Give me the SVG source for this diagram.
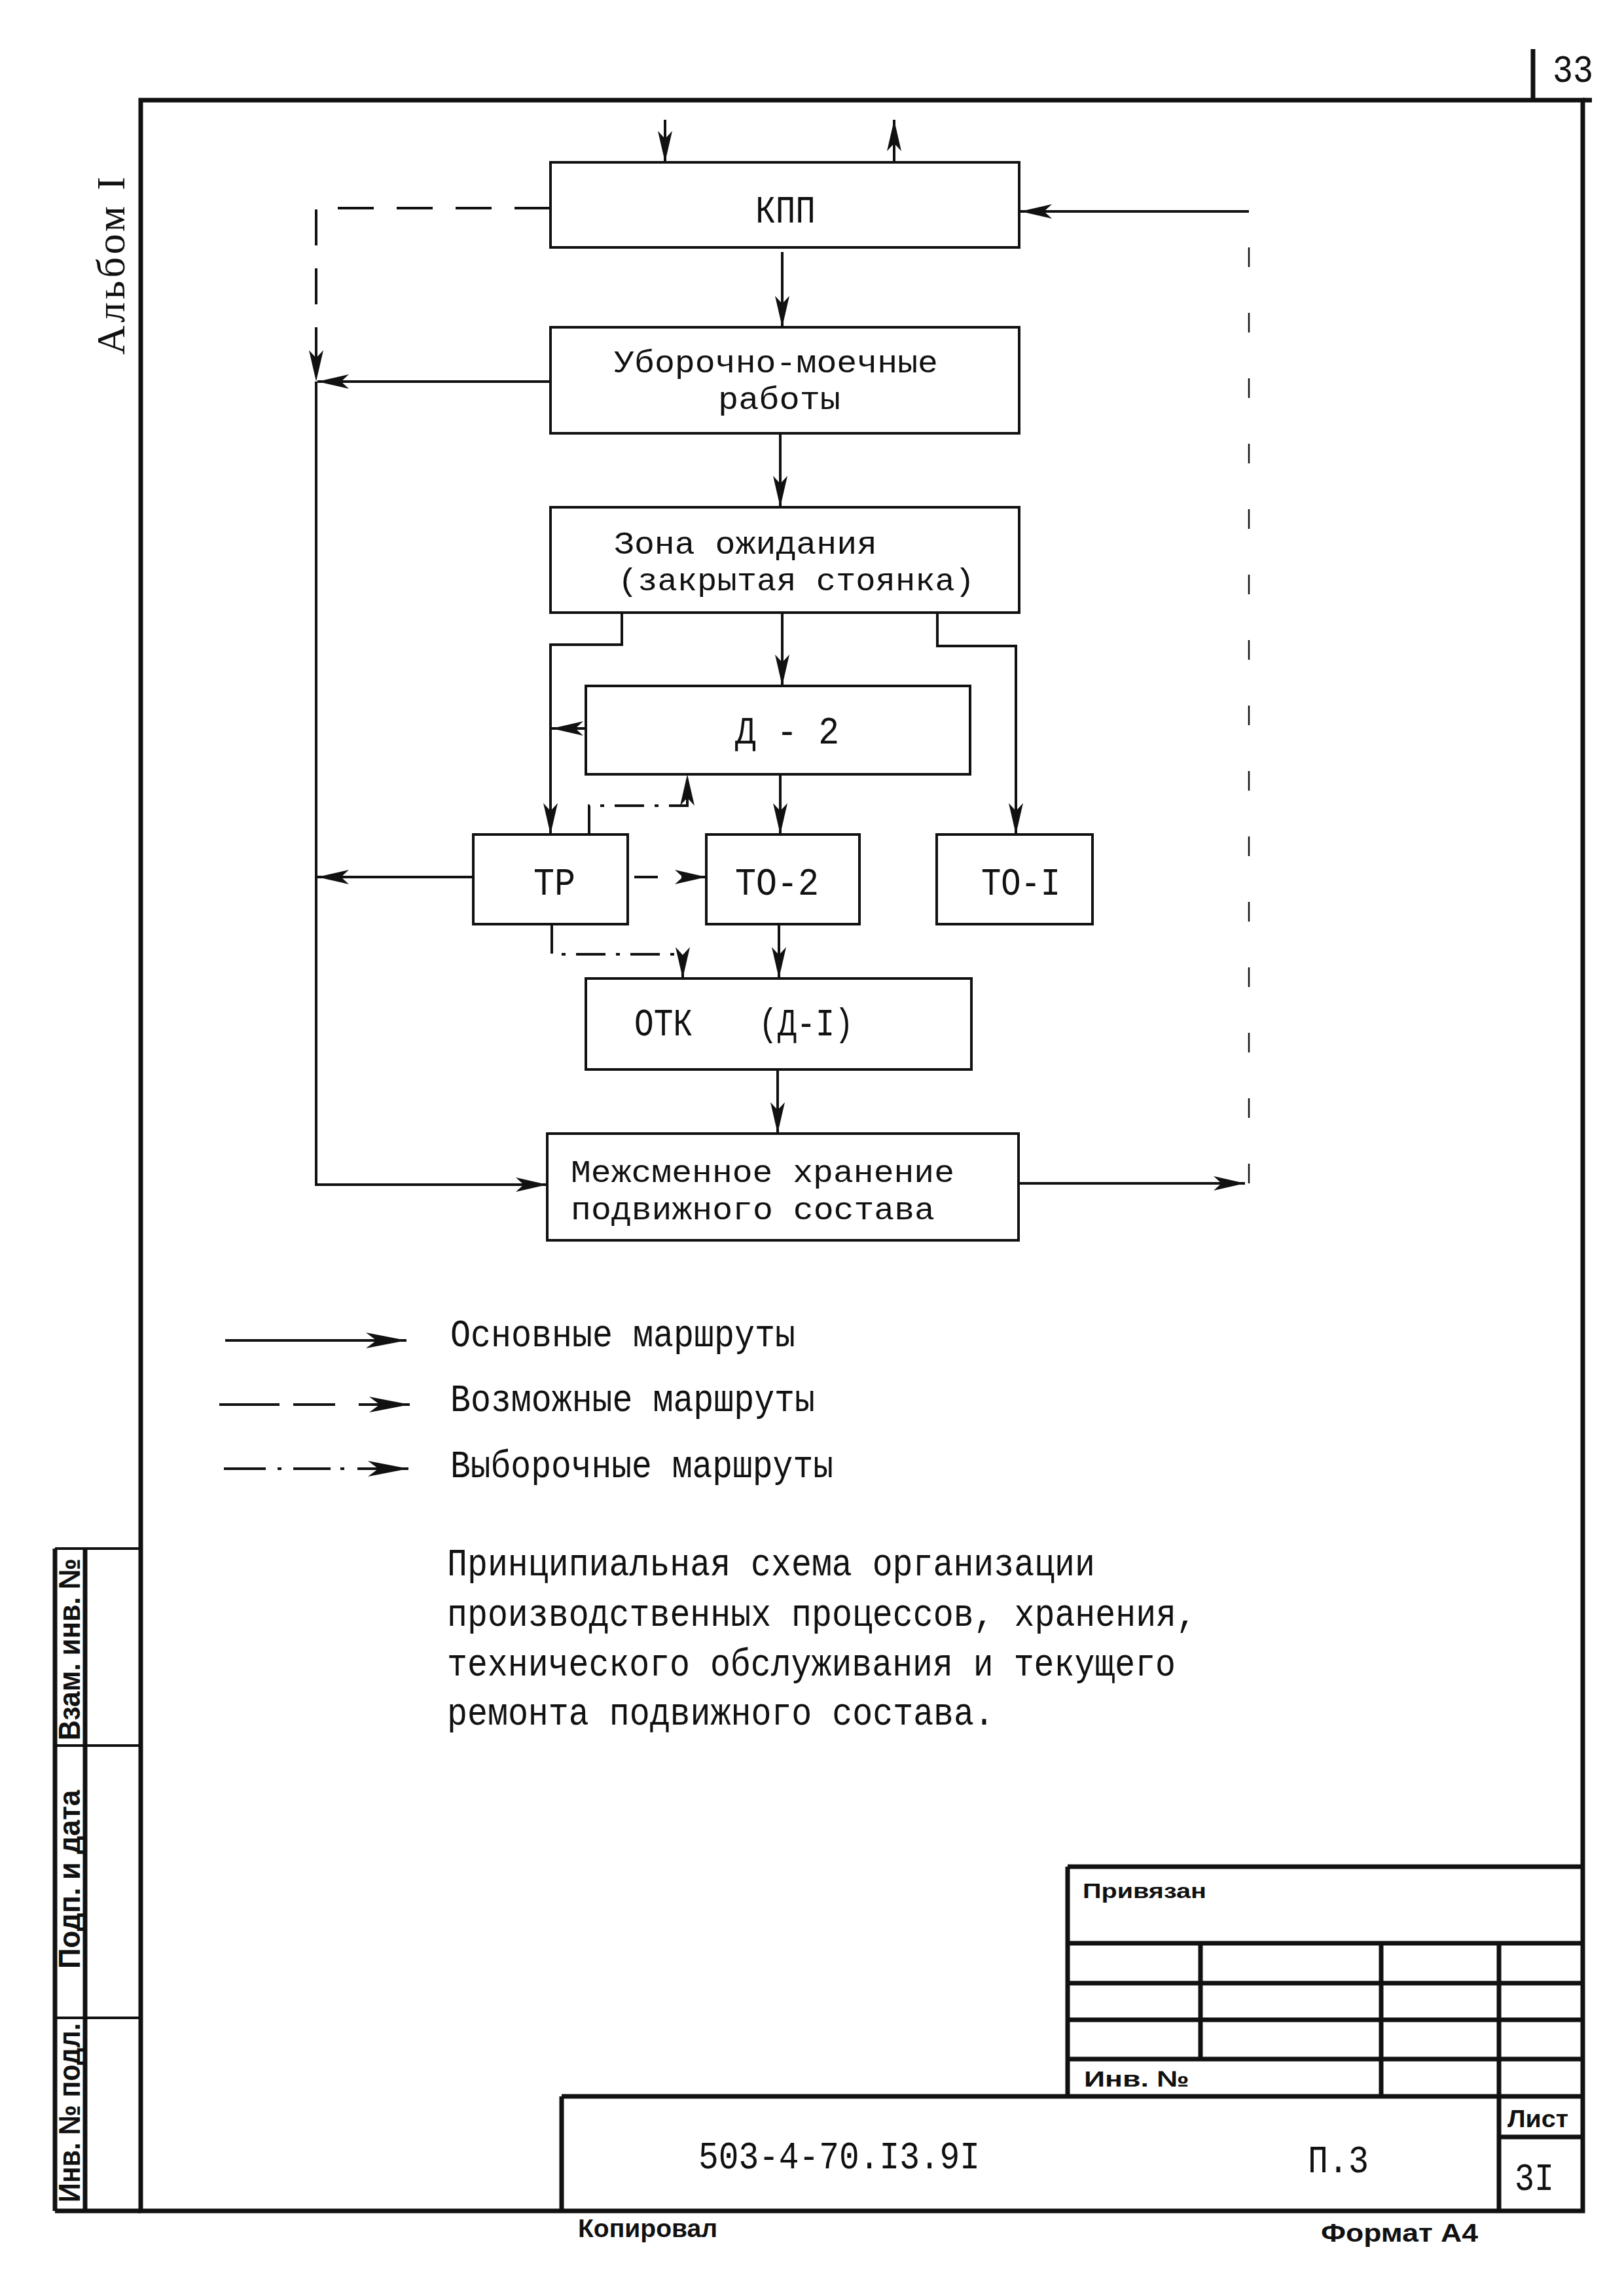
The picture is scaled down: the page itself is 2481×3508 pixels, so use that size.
<svg xmlns="http://www.w3.org/2000/svg" width="2481" height="3508" viewBox="0 0 2481 3508">
<defs>
<style>
.tw{font-family:"Liberation Mono","DejaVu Sans Mono",monospace;font-size:60px;fill:#111}
.tw2{font-family:"Liberation Mono","DejaVu Sans Mono",monospace;font-size:48px;fill:#111}
.sf{font-family:"Liberation Serif","DejaVu Serif",serif;font-size:62px;fill:#111}
.bd{font-family:"Liberation Sans","DejaVu Sans",sans-serif;font-weight:bold;fill:#111}
.box{fill:none;stroke:#111;stroke-width:4}
.ln{fill:none;stroke:#111;stroke-width:4}
.dash{stroke-dasharray:55 35}
.dd{stroke-dasharray:45 16 6 16}
.fr{fill:none;stroke:#111;stroke-width:7}
.th{fill:none;stroke:#111;stroke-width:4}
</style>
<marker id="ah" markerUnits="userSpaceOnUse" markerWidth="54" markerHeight="28" viewBox="-52 -14 54 28" refX="0" refY="0" orient="auto"><path d="M0,0 L-48,-11 L-36,0 L-48,11 Z" fill="#111"/></marker>
<marker id="ahL" markerUnits="userSpaceOnUse" markerWidth="68" markerHeight="28" viewBox="-66 -14 68 28" refX="0" refY="0" orient="auto"><path d="M0,0 L-62,-12 L-46,0 L-62,12 Z" fill="#111"/></marker>
</defs>
<rect width="2481" height="3508" fill="#fff"/>

<g id="frame">
<rect class="fr" x="215" y="153" width="2203" height="3225"/>
<line class="fr" x1="2342" y1="75" x2="2342" y2="153"/>
<line class="fr" x1="2418" y1="153" x2="2432" y2="153"/>
<text class="tw" x="2372" y="125" textLength="62" lengthAdjust="spacingAndGlyphs" font-size="64">33</text>
<text class="sf" transform="translate(190,542) rotate(-90)" textLength="272" lengthAdjust="spacing">Альбом I</text>
</g>

<g id="side-stamp">
<line class="fr" x1="84" y1="2366" x2="84" y2="3378"/>
<line class="fr" x1="130" y1="2366" x2="130" y2="3378"/>
<line class="th" x1="84" y1="2366" x2="215" y2="2366"/>
<line class="th" x1="84" y1="2667" x2="215" y2="2667"/>
<line class="th" x1="84" y1="3083" x2="215" y2="3083"/>
<line class="fr" x1="84" y1="3378" x2="215" y2="3378"/>
<text class="bd" font-size="46" transform="translate(122,2659) rotate(-90)" textLength="278" lengthAdjust="spacingAndGlyphs">Взам. инв. №</text>
<text class="bd" font-size="46" transform="translate(122,3008) rotate(-90)" textLength="273" lengthAdjust="spacingAndGlyphs">Подп. и дата</text>
<text class="bd" font-size="46" transform="translate(122,3365) rotate(-90)" textLength="274" lengthAdjust="spacingAndGlyphs">Инв. № подл.</text>
</g>

<g id="title-block">
<line class="fr" x1="1631" y1="2852" x2="2418" y2="2852"/>
<line class="fr" x1="1631" y1="2852" x2="1631" y2="3203"/>
<line class="fr" x1="1631" y1="2969" x2="2418" y2="2969"/>
<line class="fr" x1="1631" y1="3030" x2="2418" y2="3030"/>
<line class="fr" x1="1631" y1="3086" x2="2418" y2="3086"/>
<line class="fr" x1="1631" y1="3146" x2="2418" y2="3146"/>
<line class="fr" x1="858" y1="3203" x2="2418" y2="3203"/>
<line class="fr" x1="858" y1="3203" x2="858" y2="3378"/>
<line class="fr" x1="1834" y1="2969" x2="1834" y2="3146"/>
<line class="fr" x1="2110" y1="2969" x2="2110" y2="3203"/>
<line class="fr" x1="2290" y1="2969" x2="2290" y2="3378"/>
<line class="fr" x1="2290" y1="3265" x2="2418" y2="3265"/>
<text class="bd" font-size="32" x="1654" y="2900" textLength="189" lengthAdjust="spacingAndGlyphs">Привязан</text>
<text class="bd" font-size="34" x="1656" y="3188" textLength="161" lengthAdjust="spacingAndGlyphs">Инв. №</text>
<text class="bd" font-size="36" x="2303" y="3250" textLength="93" lengthAdjust="spacingAndGlyphs">Лист</text>
<text class="tw" font-size="62" x="2314" y="3346" textLength="60" lengthAdjust="spacingAndGlyphs">3I</text>
<text class="tw" font-size="62" x="1067" y="3313" textLength="430" lengthAdjust="spacingAndGlyphs">503-4-70.I3.9I</text>
<text class="tw" font-size="62" x="1998" y="3319" textLength="93" lengthAdjust="spacingAndGlyphs">П.3</text>
<text class="bd" font-size="38" x="883" y="3418" textLength="213" lengthAdjust="spacingAndGlyphs">Копировал</text>
<text class="bd" font-size="38" x="2018" y="3425" textLength="240" lengthAdjust="spacingAndGlyphs">Формат А4</text>
</g>

<g id="connectors">
<path class="ln" d="M1016 183 V248" marker-end="url(#ah)"/>
<path class="ln" d="M1366 248 V183" marker-end="url(#ah)"/>
<path class="ln" d="M1195 385 V500" marker-end="url(#ah)"/>
<path class="ln" d="M1192 662 V775" marker-end="url(#ah)"/>
<path class="ln" d="M1195 936 V1048" marker-end="url(#ah)"/>
<path class="ln" d="M950 936 V985 H841 V1275" marker-end="url(#ah)"/>
<path class="ln" d="M1432 936 V987 H1552 V1275" marker-end="url(#ah)"/>
<path class="ln" d="M1192 1183 V1275" marker-end="url(#ah)"/>
<path class="ln" d="M895 1113 H843" marker-end="url(#ah)"/>
<path class="ln dd" d="M900 1275 V1231 H1050 V1183" marker-end="url(#ah)"/>
<path class="ln" style="stroke-dasharray:0 8 36 36 60" d="M961 1340 H1079" marker-end="url(#ah)"/>
<path class="ln" d="M723 1340 H485" marker-end="url(#ah)"/>
<path class="ln dd" d="M843 1412 V1458 H1043 V1495" marker-end="url(#ah)"/>
<path class="ln" d="M1190 1412 V1495" marker-end="url(#ah)"/>
<path class="ln" d="M1188 1634 V1732" marker-end="url(#ah)"/>
<path class="ln" d="M841 583 H485" marker-end="url(#ah)"/>
<path class="ln dash" d="M841 318 H483 V583" marker-end="url(#ah)"/>
<path class="ln" d="M483 583 V1810 H836" marker-end="url(#ah)"/>
<path class="ln" d="M1557 1808 H1902" marker-end="url(#ah)"/>
<path class="ln" style="stroke-width:2.5;stroke-dasharray:30 70" d="M1908 1808 V323"/>
<path class="ln" d="M1908 323 H1559" marker-end="url(#ah)"/>
</g>

<g id="kpp">
<rect class="box" x="841" y="248" width="716" height="130"/>
<text class="tw" x="1154" y="340" textLength="92" lengthAdjust="spacingAndGlyphs">КПП</text>
</g>
<g id="uborochno">
<rect class="box" x="841" y="500" width="716" height="162"/>
<text class="tw2" x="938" y="569" textLength="495" lengthAdjust="spacingAndGlyphs">Уборочно-моечные</text>
<text class="tw2" x="1097" y="625" textLength="187" lengthAdjust="spacingAndGlyphs">работы</text>
</g>
<g id="zona">
<rect class="box" x="841" y="775" width="716" height="161"/>
<text class="tw2" x="938" y="846" textLength="402" lengthAdjust="spacingAndGlyphs">Зона ожидания</text>
<text class="tw2" x="944" y="902" textLength="545" lengthAdjust="spacingAndGlyphs">(закрытая стоянка)</text>
</g>
<g id="d2">
<rect class="box" x="895" y="1048" width="587" height="135"/>
<text class="tw" x="1123" y="1136" textLength="159" lengthAdjust="spacingAndGlyphs">Д - 2</text>
</g>
<g id="tr">
<rect class="box" x="723" y="1275" width="236" height="137"/>
<text class="tw" x="815" y="1367" textLength="64" lengthAdjust="spacingAndGlyphs">ТР</text>
</g>
<g id="to2">
<rect class="box" x="1079" y="1275" width="234" height="137"/>
<text class="tw" x="1123" y="1367" textLength="128" lengthAdjust="spacingAndGlyphs">ТО-2</text>
</g>
<g id="to1">
<rect class="box" x="1431" y="1275" width="238" height="137"/>
<text class="tw" x="1499" y="1367" textLength="121" lengthAdjust="spacingAndGlyphs">ТО-I</text>
</g>
<g id="otk">
<rect class="box" x="895" y="1495" width="589" height="139"/>
<text class="tw" x="969" y="1582" textLength="89" lengthAdjust="spacingAndGlyphs">ОТК</text>
<text class="tw" x="1159" y="1582" textLength="145" lengthAdjust="spacingAndGlyphs">(Д-I)</text>
</g>
<g id="mezh">
<rect class="box" x="836" y="1732" width="720" height="163"/>
<text class="tw2" x="872" y="1806" textLength="586" lengthAdjust="spacingAndGlyphs">Межсменное хранение</text>
<text class="tw2" x="872" y="1863" textLength="556" lengthAdjust="spacingAndGlyphs">подвижного состава</text>
</g>

<g id="legend">
<path class="ln" d="M344 2048 H621" marker-end="url(#ahL)"/>
<path class="ln" style="stroke-dasharray:92 21 64 36 300" d="M335 2146 H626" marker-end="url(#ahL)"/>
<path class="ln" style="stroke-dasharray:64 18 6 18 57 15 6 20 300" d="M342 2244 H624" marker-end="url(#ahL)"/>
<text class="tw" x="688" y="2057" textLength="527" lengthAdjust="spacingAndGlyphs">Основные маршруты</text>
<text class="tw" x="688" y="2156" textLength="557" lengthAdjust="spacingAndGlyphs">Возможные маршруты</text>
<text class="tw" x="688" y="2257" textLength="585" lengthAdjust="spacingAndGlyphs">Выборочные маршруты</text>
</g>

<g id="caption">
<text class="tw" x="683" y="2407" textLength="990" lengthAdjust="spacingAndGlyphs">Принципиальная схема организации</text>
<text class="tw" x="683" y="2484" textLength="1145" lengthAdjust="spacingAndGlyphs">производственных процессов, хранения,</text>
<text class="tw" x="683" y="2560" textLength="1113" lengthAdjust="spacingAndGlyphs">технического обслуживания и текущего</text>
<text class="tw" x="683" y="2635" textLength="836" lengthAdjust="spacingAndGlyphs">ремонта подвижного состава.</text>
</g>
</svg>
